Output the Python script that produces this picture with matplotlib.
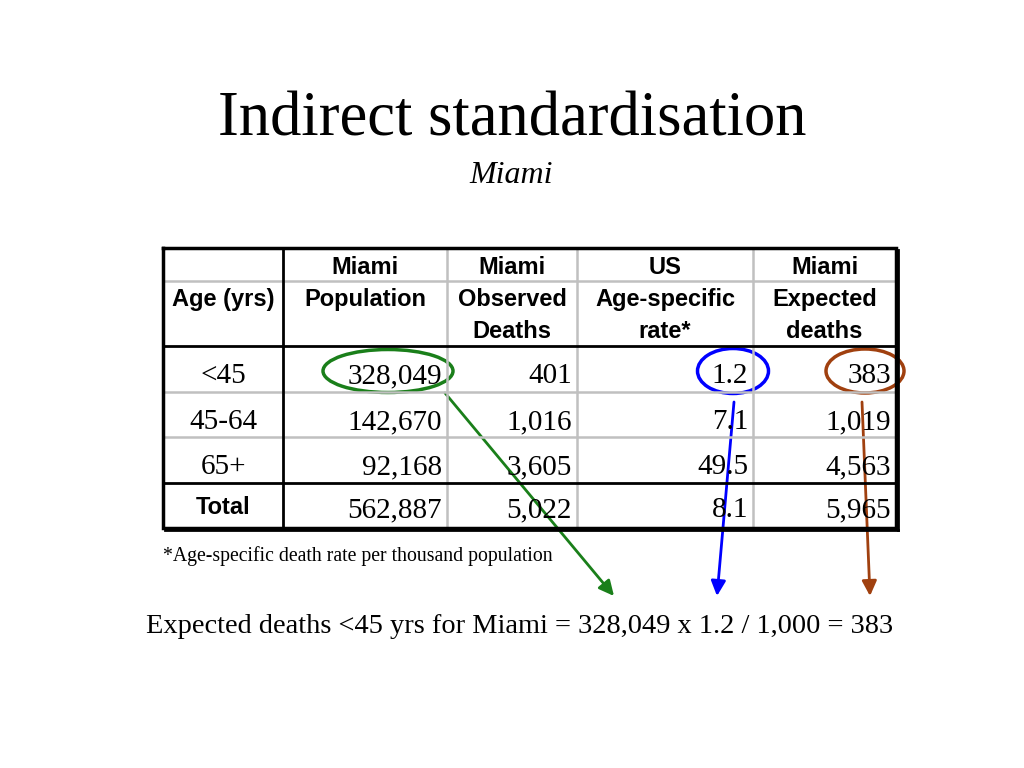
import matplotlib
matplotlib.use("Agg")
import matplotlib.pyplot as plt
from matplotlib.patches import Ellipse, FancyArrowPatch

# ---- data ----
ages = ["<45", "45-64", "65+", "Total"]
population = [328049, 142670, 92168, 562887]
observed = [401, 1016, 3605, 5022]
us_rate = [1.2, 7.1, 49.5, 8.1]
expected = [383, 1019, 4563, 5965]
header_lines = [
    ["", "Age (yrs)", ""],
    ["Miami", "Population", ""],
    ["Miami", "Observed", "Deaths"],
    ["US", "Age-specific", "rate*"],
    ["Miami", "Expected", "deaths"],
]
title = "Indirect standardisation"
subtitle = "Miami"
footnote = "*Age-specific death rate per thousand population"

SERIF = ["Liberation Serif", "DejaVu Serif"]
SANS = ["Liberation Sans", "DejaVu Sans"]

fig = plt.figure(figsize=(10.24, 7.68), dpi=100)
ax = fig.add_axes([0, 0, 1, 1])
ax.set_xlim(0, 1024)
ax.set_ylim(768, 0)
ax.axis("off")

# title
ax.text(512, 135, title, ha="center", va="baseline", fontsize=45, family=SERIF)
ax.text(511, 183, subtitle, ha="center", va="baseline", fontsize=23, family=SERIF, style="italic")

# table geometry
col_x = [163, 283, 447, 577, 753, 896]
row_y = [346, 392, 437, 483, 528]
top = 248
head_split = 281
GRAY = "#c0c0c0"

# gray inner lines
for x in col_x[2:5]:
    ax.plot([x, x], [top, row_y[-1]], color=GRAY, lw=1.8, solid_capstyle="butt")
for y in [head_split, row_y[1], row_y[2]]:
    ax.plot([col_x[0], col_x[-1]], [y, y], color=GRAY, lw=1.8, solid_capstyle="butt")
# black lines
ax.plot([col_x[1], col_x[1]], [top, row_y[-1]], color="black", lw=2, solid_capstyle="butt")
ax.plot([col_x[0], col_x[-1]], [row_y[0], row_y[0]], color="black", lw=2)
ax.plot([col_x[0], col_x[-1]], [row_y[3], row_y[3]], color="black", lw=2)
ax.plot([col_x[0], col_x[-1], col_x[-1], col_x[0], col_x[0]],
        [top, top, row_y[-1], row_y[-1], top], color="black", lw=2.5, solid_joinstyle="miter")
ax.plot([col_x[-1] + 2, col_x[-1] + 2], [top + 2, row_y[-1] + 2], color="black", lw=2)
ax.plot([col_x[0] + 2, col_x[-1] + 2], [row_y[-1] + 2, row_y[-1] + 2], color="black", lw=2)

# header text
head_base = [274, 306, 338]
for i, lines in enumerate(header_lines):
    cx = (col_x[i] + col_x[i + 1]) / 2
    for j, t in enumerate(lines):
        if t:
            ax.text(cx, head_base[j], t, ha="center", va="baseline", fontsize=17,
                    family=SANS, weight="bold")

# body
row_base = [383, 429, 474, 517]
for r in range(4):
    by = row_base[r]
    if ages[r] == "Total":
        ax.text((col_x[0] + col_x[1]) / 2, by - 3, ages[r], ha="center", va="baseline",
                fontsize=17, family=SANS, weight="bold")
    else:
        ax.text((col_x[0] + col_x[1]) / 2, by, ages[r], ha="center", va="baseline",
                fontsize=21, family=SERIF)
    vals = [f"{population[r]:,}", f"{observed[r]:,}", f"{us_rate[r]:.1f}", f"{expected[r]:,}"]
    for c, v in enumerate(vals):
        ax.text(col_x[c + 2] - 5, by, v, ha="right", va="baseline", fontsize=21, family=SERIF)

# footnote
ax.text(163, 561, footnote, ha="left", va="baseline", fontsize=14.2, family=SERIF)

# equation
eq = (f"Expected deaths {ages[0]} yrs for Miami = {population[0]:,} x {us_rate[0]} "
      f"/ 1,000 = {expected[0]}")
ax.text(520, 633, eq, ha="center", va="baseline", fontsize=20.4, family=SERIF)

# highlights
GREEN, BLUE, BROWN = "#1a7f1a", "#0000ff", "#a0400f"
ax.add_patch(Ellipse((388, 371), 130, 43, fill=False, ec=GREEN, lw=2.5))
ax.add_patch(Ellipse((733, 371), 71, 45, fill=False, ec=BLUE, lw=2.5))
ax.add_patch(Ellipse((865, 371), 78, 44, fill=False, ec=BROWN, lw=2.5))

for (x0, y0, x1, y1, col) in [(445, 393, 614, 596, GREEN),
                              (734, 402, 717, 596, BLUE),
                              (862, 402, 870, 596, BROWN)]:
    ax.add_patch(FancyArrowPatch((x0, y0), (x1, y1), arrowstyle="-|>,head_length=4.5,head_width=2.2",
                                 mutation_scale=2, color=col, lw=2, shrinkA=0, shrinkB=0))

fig.savefig("out.png", dpi=100)
